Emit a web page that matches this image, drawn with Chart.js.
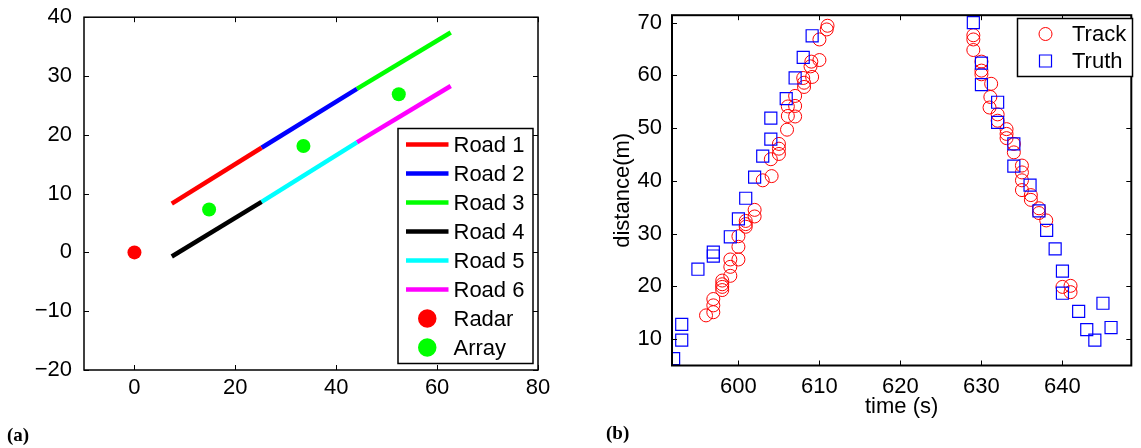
<!DOCTYPE html>
<html>
<head>
<meta charset="utf-8">
<script src="https://cdn.jsdelivr.net/npm/chart.js@4.4.0/dist/chart.umd.min.js"></script>
<style>
  body { margin: 0; background: #fff; width: 1141px; height: 448px; overflow: hidden; position: relative; }
  canvas { position: absolute; top: 0; }
  #roads { left: 0; }
  #tracks { left: 590px; }
  .tag { position: absolute; font-family: "Liberation Serif", serif; font-weight: bold; font-size: 19px; line-height: 20px; }
</style>
</head>
<body>
<canvas id="roads" width="560" height="448"></canvas>
<canvas id="tracks" width="551" height="448"></canvas>
<div class="tag" style="left:7px; top:425px">(a)</div>
<div class="tag" style="left:606px; top:423px">(b)</div>
<script>
// road layout (m)
const roadNames = ['Road 1', 'Road 2', 'Road 3', 'Road 4', 'Road 5', 'Road 6'];
const roadX = [[7.4, 25.2], [25.2, 44.1], [44.1, 62.7], [7.4, 25.2], [25.2, 44.1], [44.1, 62.7]];
const roadY = [[8.3, 17.8], [17.8, 27.8], [27.8, 37.4], [-0.7, 8.6], [8.6, 18.7], [18.7, 28.3]];
const radarX = [0];
const radarY = [0];
const arrayX = [14.8, 33.5, 52.4];
const arrayY = [7.3, 18.1, 26.9];

const roadTicksX = [0, 20, 40, 60, 80];
const roadTicksY = [-20, -10, 0, 10, 20, 30, 40];

// tracked vs. true distance over time
const trackT = [596.0, 596.9, 596.9, 596.9, 598.0, 598.0, 598.0, 598.0, 599.0, 599.0, 599.0, 600.0,
  600.0, 600.0, 600.9, 600.9, 600.9, 602.0, 602.0, 603.0, 604.1, 604.0, 605.0, 605.0, 605.0, 606.0,
  606.1, 607.0, 606.1, 607.0, 607.0, 608.1, 608.1, 608.0, 609.1, 608.9, 609.0, 610.0, 610.0, 610.9, 611.0,
  629.0, 629.0, 629.0, 630.0, 630.0, 630.0, 631.2, 631.1, 631.0, 632.0, 632.0, 633.1, 633.1, 633.1,
  634.0, 634.0, 635.0, 635.0, 635.0, 635.0, 636.1, 636.1, 637.1, 637.1, 638.0, 640.0, 641.0, 641.0];
const trackD = [14.5, 15.1, 16.4, 17.6, 19.3, 19.9, 20.4, 21.1, 22.0, 23.7, 25.1, 25.1,
  27.5, 29.5, 31.3, 31.8, 32.4, 33.25, 34.5, 40.1, 40.9, 44.1, 45.1, 46.1, 47.0, 49.7,
  52.3, 52.2, 54.1, 54.2, 56.1, 57.8, 58.6, 59.5, 59.7, 61.7, 62.6, 62.9, 66.8, 68.7, 69.4,
  67.6, 66.8, 64.8, 62.6, 60.9, 60.2, 58.4, 55.9, 53.9, 52.6, 51.4, 49.8, 48.9, 48.1,
  47.0, 45.4, 42.9, 41.6, 40.1, 38.25, 37.3, 36.4, 34.8, 33.9, 32.5, 19.9, 20.1, 18.9];
const truthT = [592.0, 593.0, 593.0, 595.0, 596.9, 596.9, 599.0, 600.0, 600.9, 602.0, 603.0, 604.0,
  604.0, 605.9, 607.0, 608.0, 609.1,
  629.0, 630.0, 630.0, 632.0, 632.0, 634.0, 634.0, 636.0, 637.1, 638.05, 639.1, 640.0, 640.0,
  642.0, 643.0, 644.0, 645.0, 646.0];
const truthD = [6.3, 9.8, 12.8, 23.25, 25.75, 26.5, 29.4, 32.8, 36.7, 40.7, 44.7, 47.9,
  51.9, 55.6, 59.5, 63.4, 67.5,
  70.0, 62.3, 58.25, 54.9, 51.1, 47.0, 42.8, 39.2, 34.3, 30.6, 27.1, 22.9, 18.7,
  15.25, 11.8, 9.8, 16.8, 12.2];

const timeTicks = [600, 610, 620, 630, 640];
const distTicks = [10, 20, 30, 40, 50, 60, 70];

const FONT = '"Liberation Sans", Arial, sans-serif';
Chart.defaults.font.family = FONT;
Chart.defaults.font.size = 22;
Chart.defaults.color = '#000';

const pts = (xs, ys) => xs.map((x, i) => ({ x: x, y: ys[i] }));
// typographic minus for negative tick values
const minus = v => String(v).replace('-', '\u2212');

// box round the axes with inward ticks on all four sides
const frame = {
  id: 'frame',
  afterDatasetsDraw(chart, args, o) {
    const { ctx, chartArea: a } = chart;
    const x = chart.scales.x, y = chart.scales.y;
    ctx.save();
    ctx.strokeStyle = '#000';
    ctx.lineWidth = 1;
    ctx.beginPath();
    x.ticks.forEach(t => {
      const px = Math.round(x.getPixelForValue(t.value)) + 0.5;
      ctx.moveTo(px, a.bottom); ctx.lineTo(px, a.bottom - o.len);
      ctx.moveTo(px, a.top); ctx.lineTo(px, a.top + o.len);
    });
    y.ticks.forEach(t => {
      const py = Math.round(y.getPixelForValue(t.value)) + 0.5;
      ctx.moveTo(a.left, py); ctx.lineTo(a.left + o.len, py);
      ctx.moveTo(a.right, py); ctx.lineTo(a.right - o.len, py);
    });
    ctx.stroke();
    ctx.lineWidth = o.width;
    ctx.strokeRect(a.left, a.top, a.width, a.height);
    ctx.restore();
  }
};

function marker(ctx, style, r, cx, cy) {
  ctx.beginPath();
  if (style === 'rect') {
    const s = r * Math.SQRT1_2;
    ctx.rect(cx - s, cy - s, 2 * s, 2 * s);
  } else {
    ctx.arc(cx, cy, r, 0, Math.PI * 2);
  }
}

// boxed legend drawn inside the plot
const boxLegend = {
  id: 'boxLegend',
  afterDraw(chart, args, o) {
    const ctx = chart.ctx;
    ctx.save();
    ctx.fillStyle = '#fff';
    ctx.fillRect(o.left, o.top, o.right - o.left, o.bottom - o.top);
    ctx.strokeStyle = '#000';
    ctx.lineWidth = 1.5;
    ctx.strokeRect(o.left, o.top, o.right - o.left, o.bottom - o.top);
    ctx.font = '22px ' + FONT;
    ctx.textBaseline = 'middle';
    chart.data.datasets.forEach((ds, i) => {
      const cy = o.firstRow + i * o.rowGap;
      if (ds.showLine) {
        ctx.strokeStyle = ds.borderColor;
        ctx.lineWidth = ds.borderWidth;
        ctx.beginPath();
        ctx.moveTo(o.sample[0], cy); ctx.lineTo(o.sample[1], cy);
        ctx.stroke();
      } else {
        const cx = (o.sample[0] + o.sample[1]) / 2;
        marker(ctx, ds.pointStyle, ds.pointRadius, cx, cy);
        if (ds.backgroundColor !== 'transparent') { ctx.fillStyle = ds.backgroundColor; ctx.fill(); }
        ctx.strokeStyle = ds.borderColor;
        ctx.lineWidth = ds.borderWidth;
        ctx.stroke();
      }
      ctx.fillStyle = '#000';
      ctx.fillText(ds.label, o.textX, cy + 1);
    });
    ctx.restore();
  }
};

const roadColors = ['#ff0000', '#0000ff', '#00ff00', '#000000', '#00ffff', '#ff00ff'];
const roadSets = roadNames.map((name, i) => ({
  label: name,
  data: pts(roadX[i], roadY[i]),
  showLine: true,
  borderColor: roadColors[i],
  borderWidth: 4.5,
  pointRadius: 0,
  borderCapStyle: 'butt'
}));

new Chart(document.getElementById('roads'), {
  type: 'scatter',
  data: {
    datasets: roadSets.concat([
      { label: 'Radar', data: pts(radarX, radarY), pointStyle: 'circle', pointRadius: 7,
        backgroundColor: '#ff0000', borderColor: '#ff0000', borderWidth: 0 },
      { label: 'Array', data: pts(arrayX, arrayY), pointStyle: 'circle', pointRadius: 7,
        backgroundColor: '#00ff00', borderColor: '#00ff00', borderWidth: 0 }
    ])
  },
  options: {
    responsive: false,
    animation: false,
    events: [],
    layout: { padding: { top: 13, right: 22, left: 0, bottom: 0 } },
    scales: {
      x: {
        min: -10, max: 80,
        grid: { display: false }, border: { display: false },
        ticks: { padding: -3, callback: minus },
        afterBuildTicks: s => { s.ticks = roadTicksX.map(v => ({ value: v })); },
        afterFit: s => { s.height = 78; }
      },
      y: {
        min: -20, max: 40,
        grid: { display: false }, border: { display: false },
        ticks: { padding: 4, callback: minus },
        afterBuildTicks: s => { s.ticks = roadTicksY.map(v => ({ value: v })); },
        afterFit: s => { s.width = 84; }
      }
    },
    plugins: {
      legend: { display: false },
      tooltip: { enabled: false },
      frame: { width: 1.5, len: 5 },
      boxLegend: { left: 398, top: 128.5, right: 533, bottom: 363.5,
        firstRow: 144.5, rowGap: 29, sample: [406, 448.5], textX: 453.5 }
    }
  },
  plugins: [frame, boxLegend]
});

new Chart(document.getElementById('tracks'), {
  type: 'scatter',
  data: {
    datasets: [
      { label: 'Track', data: pts(trackT, trackD), pointStyle: 'circle', pointRadius: 6.5,
        backgroundColor: 'transparent', borderColor: '#ff0000', borderWidth: 1, order: 1 },
      { label: 'Truth', data: pts(truthT, truthD), pointStyle: 'rect', pointRadius: 8.5,
        backgroundColor: 'transparent', borderColor: '#0000ff', borderWidth: 1.2, order: 0 }
    ]
  },
  options: {
    responsive: false,
    animation: false,
    events: [],
    layout: { padding: { top: 11.5, right: 4, left: 0, bottom: 0 } },
    scales: {
      x: {
        min: 591.8, max: 648.5,
        grid: { display: false }, border: { display: false },
        ticks: { padding: 0 },
        title: { display: true, text: 'time (s)', padding: { top: 0, bottom: 28 } },
        afterBuildTicks: s => { s.ticks = timeTicks.map(v => ({ value: v })); },
        afterFit: s => { s.height = 82.5; }
      },
      y: {
        min: 5, max: 71.4,
        grid: { display: false }, border: { display: false },
        ticks: { padding: 2 },
        title: { display: true, text: 'distance(m)', padding: { top: 20, bottom: 0 } },
        afterBuildTicks: s => { s.ticks = distTicks.map(v => ({ value: v })); },
        afterFit: s => { s.width = 82; }
      }
    },
    plugins: {
      legend: { display: false },
      tooltip: { enabled: false },
      frame: { width: 2, len: 5 },
      boxLegend: { left: 427.5, top: 18.5, right: 542.5, bottom: 76.5,
        firstRow: 34, rowGap: 27, sample: [443, 468], textX: 482 }
    }
  },
  plugins: [frame, boxLegend]
});
</script>
</body>
</html>
